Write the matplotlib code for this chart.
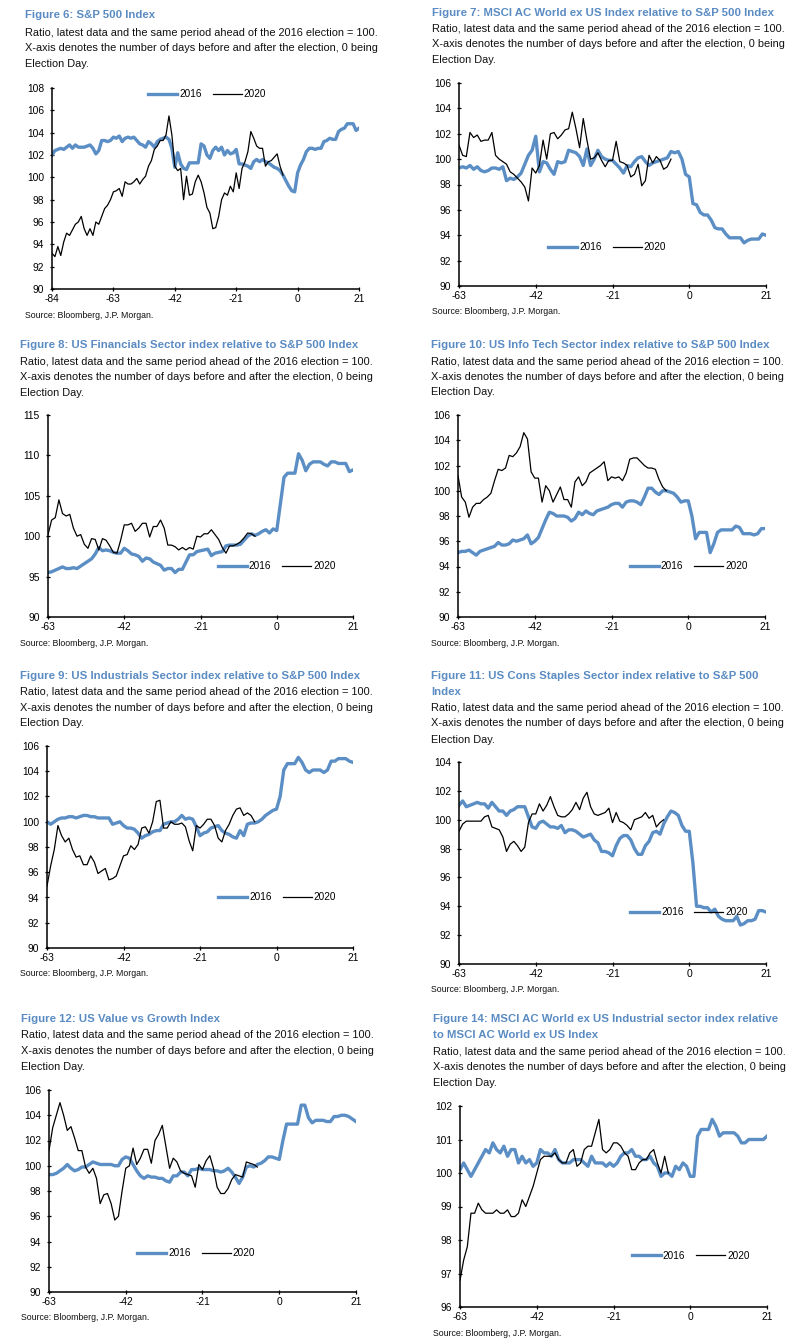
import numpy as np
import matplotlib
matplotlib.use("Agg")
import matplotlib.pyplot as plt

# ---- data: ratio series, one value per trading day ----
p1_2016 = [102.0, 102.4, 102.5, 102.6, 102.5, 102.7, 102.9, 102.6, 102.9, 102.7,
           102.7, 102.7, 102.8, 102.9, 102.6, 102.1, 102.4, 103.3, 103.3, 103.2,
           103.3, 103.6, 103.5, 103.7, 103.2, 103.5, 103.6, 103.5, 103.6, 103.3,
           103.0, 102.9, 102.7, 103.2, 103.0, 102.7, 103.2, 103.4, 103.5, 103.6,
           103.4, 102.6, 100.9, 102.2, 101.2, 100.8, 100.7, 101.3, 101.3, 101.3,
           101.3, 103.0, 102.8, 102.0, 101.7, 102.4, 102.7, 102.4, 102.7, 102.0,
           102.4, 102.1, 102.2, 102.5, 101.2, 101.2, 101.1, 101.0, 100.8, 101.4,
           101.6, 101.4, 101.6, 101.4, 101.3, 101.1, 100.9, 100.8, 100.6, 100.2,
           99.7, 99.2, 98.8, 98.7, 100.4, 101.1, 101.6, 102.3, 102.6, 102.6,
           102.5, 102.6, 102.6, 103.2, 103.3, 103.5, 103.4, 103.4, 104.1, 104.3,
           104.4, 104.8, 104.8, 104.8, 104.2, 104.4]
p1_2020 = [93.2, 92.9, 93.8, 93.0, 94.2, 95.0, 94.8, 95.3, 95.8, 96.0,
           96.5, 95.4, 94.8, 95.4, 94.8, 96.0, 95.8, 96.5, 97.2, 97.5,
           98.0, 98.7, 98.8, 99.0, 98.3, 99.6, 99.4, 99.4, 99.6, 99.9,
           99.4, 99.8, 100.1, 101.0, 101.5, 102.5, 102.8, 103.3, 103.3, 103.8,
           105.5, 103.8, 101.0, 100.6, 100.8, 98.0, 100.1, 98.4, 98.5, 99.6,
           100.2, 99.6, 98.6, 97.3, 96.8, 95.4, 95.5, 96.5, 98.0, 98.6,
           98.4, 99.2, 98.7, 100.4, 99.0, 100.8, 101.4, 102.3, 104.1, 103.5,
           102.8, 102.6, 102.6, 101.0, 101.4, 101.5, 101.8, 102.1, 101.0, 100.2]

p2_2016 = [99.3, 99.4, 99.3, 99.5, 99.2, 99.4, 99.1, 99.0, 99.1, 99.3,
           99.3, 99.2, 99.4, 98.3, 98.5, 98.4, 98.6, 98.9, 99.6, 100.3,
           100.7, 101.8, 99.0, 99.8, 99.7, 99.2, 98.8, 99.8, 99.7, 99.8,
           100.7, 100.6, 100.5, 100.2, 99.5, 100.8, 99.5, 100.0, 100.7, 100.2,
           100.0, 99.9, 99.9, 99.6, 99.3, 98.9, 99.5, 99.4, 99.8, 100.1,
           100.2, 99.8, 99.5, 99.7, 99.8, 99.9, 100.0, 100.1, 100.6, 100.5,
           100.6, 100.0, 98.8, 98.6, 96.5, 96.4, 95.8, 95.6, 95.6, 95.2,
           94.6, 94.5, 94.5, 94.1, 93.8, 93.8, 93.8, 93.8, 93.4, 93.6,
           93.7, 93.7, 93.7, 94.1, 94.0]
p2_2020 = [101.1, 100.3, 100.2, 102.1, 101.7, 101.9, 101.4, 101.5, 101.5, 102.1,
           100.3, 100.0, 99.8, 99.6, 99.0, 98.8, 98.5, 98.2, 97.8, 96.7,
           99.3, 98.9, 99.5, 101.5, 100.0, 102.0, 102.1, 101.6, 101.9, 102.3,
           102.4, 103.7, 102.4, 100.9, 103.2, 101.5, 100.0, 100.1, 100.5, 99.9,
           99.4, 99.9, 99.9, 101.4, 99.8, 99.7, 99.5, 98.6, 98.8, 99.6,
           97.9, 98.3, 100.3, 99.7, 100.2, 99.9, 99.2, 99.4, 100.0]

p3_2016 = [95.5, 95.6, 95.8, 96.0, 96.2, 96.0, 96.0, 96.1, 96.0, 96.3,
           96.6, 96.9, 97.2, 97.8, 98.6, 98.2, 98.3, 98.2, 98.0, 97.9,
           97.9, 98.5, 98.2, 97.8, 97.7, 97.5, 96.9, 97.3, 97.2, 96.8,
           96.6, 96.4, 95.8, 96.0, 96.0, 95.5, 95.9, 95.9, 96.8, 97.7,
           97.7, 98.1, 98.2, 98.3, 98.4, 97.6, 97.9, 98.0, 98.1, 98.8,
           98.9, 98.9, 98.9, 99.0, 99.5, 100.0, 100.3, 100.1, 100.3, 100.6,
           100.8, 100.4, 100.9, 100.7, 104.0, 107.3, 107.8, 107.8, 107.8, 110.2,
           109.4, 108.1, 108.9, 109.2, 109.2, 109.2, 108.9, 108.7, 109.2, 109.2,
           109.0, 109.0, 109.0, 108.0, 108.2]
p3_2020 = [100.2, 102.0, 102.3, 104.5, 102.8, 102.5, 102.7, 101.0, 100.0, 100.2,
           99.0, 98.5, 99.7, 99.6, 98.3, 99.7, 99.5, 98.8, 98.0, 97.9,
           99.5, 101.4, 101.4, 101.6, 100.6, 101.0, 101.6, 101.6, 99.9, 101.2,
           101.2, 102.0, 101.0, 98.9, 98.9, 98.7, 98.3, 98.6, 98.3, 98.6,
           98.4, 100.0, 99.9, 100.3, 100.3, 100.8, 100.2, 99.6, 98.6, 97.9,
           98.8, 98.8, 99.0, 99.3, 99.8, 100.4, 100.3, 100.0]

p4_2016 = [95.1, 95.2, 95.2, 95.3, 95.1, 94.9, 95.2, 95.3, 95.4, 95.5,
           95.6, 95.9, 95.7, 95.7, 95.8, 96.1, 96.0, 96.1, 96.2, 96.5,
           95.8, 96.0, 96.3, 97.0, 97.7, 98.3, 98.2, 98.0, 98.0, 98.0,
           97.9, 97.6, 97.8, 98.3, 98.1, 98.4, 98.2, 98.1, 98.4, 98.5,
           98.6, 98.7, 98.9, 99.0, 99.0, 98.7, 99.1, 99.2, 99.2, 99.1,
           98.9, 99.5, 100.2, 100.2, 99.9, 99.7, 100.0, 100.0, 99.9, 99.8,
           99.5, 99.1, 99.2, 99.2, 98.0, 96.2, 96.7, 96.7, 96.7, 95.1,
           95.8, 96.7, 96.9, 96.9, 96.9, 96.9, 97.2, 97.1, 96.6, 96.6,
           96.6, 96.5, 96.6, 97.0, 97.0]
p4_2020 = [101.2, 99.5, 99.1, 97.9, 98.7, 99.0, 99.0, 99.3, 99.5, 99.8,
           100.8, 101.7, 101.6, 101.8, 102.8, 102.7, 103.0, 103.5, 104.6, 104.1,
           101.5, 101.0, 101.0, 99.1, 100.4, 100.0, 99.1, 99.7, 100.3, 99.3,
           99.3, 98.7, 100.7, 101.1, 100.4, 100.7, 101.4, 101.6, 101.8, 102.0,
           102.3, 100.8, 101.1, 101.0, 101.1, 100.8, 101.4, 102.5, 102.6, 102.6,
           102.3, 102.0, 101.8, 101.8, 101.7, 100.9, 100.3, 100.0]

p5_2016 = [100.0, 99.8, 100.0, 100.2, 100.3, 100.3, 100.4, 100.4, 100.3, 100.4,
           100.5, 100.5, 100.4, 100.4, 100.3, 100.3, 100.3, 100.3, 99.8, 99.9,
           100.0, 99.7, 99.5, 99.5, 99.4, 99.1, 98.7, 98.9, 99.0, 99.2,
           99.3, 99.3, 99.8, 99.9, 100.0, 100.0, 100.2, 100.5, 100.2, 100.3,
           100.2, 99.6, 98.9, 99.1, 99.2, 99.5, 99.6, 99.7, 99.3, 99.1,
           99.0, 98.8, 98.7, 99.3, 98.9, 99.8, 99.9, 99.9, 100.0, 100.2,
           100.5, 100.7, 100.9, 101.0, 102.0, 104.1, 104.6, 104.6, 104.6, 105.1,
           104.7, 104.1, 103.9, 104.1, 104.1, 104.1, 103.9, 104.1, 104.8, 104.8,
           105.0, 105.0, 105.0, 104.8, 104.7]
p5_2020 = [94.9, 96.5, 97.8, 99.7, 98.9, 98.4, 98.7, 97.8, 97.2, 97.3,
           96.6, 96.6, 97.3, 96.8, 95.9, 96.1, 96.3, 95.4, 95.5, 95.7,
           96.5, 97.3, 97.4, 98.1, 97.8, 98.2, 99.5, 99.6, 99.1, 100.0,
           101.6, 101.7, 99.5, 99.5, 100.0, 99.8, 99.8, 99.9, 99.6, 98.5,
           97.7, 99.7, 99.5, 99.8, 100.2, 100.2, 99.7, 98.7, 98.4, 99.3,
           99.8, 100.5, 101.0, 101.1, 100.5, 100.7, 100.5, 100.0]

p6_2016 = [101.0, 101.3, 100.9, 101.0, 101.1, 101.2, 101.1, 101.1, 100.8, 101.2,
           100.9, 100.6, 100.6, 100.3, 100.6, 100.7, 100.9, 100.9, 100.9, 100.2,
           99.5, 99.4, 99.8, 99.9, 99.7, 99.5, 99.5, 99.4, 99.6, 99.1,
           99.3, 99.3, 99.2, 99.0, 98.8, 98.9, 99.0, 98.6, 98.4, 97.8,
           97.8, 97.7, 97.5, 98.2, 98.7, 98.9, 98.9, 98.6, 98.0, 97.6,
           97.6, 98.2, 98.5, 99.1, 99.2, 99.0, 99.7, 100.2, 100.6, 100.5,
           100.3, 99.6, 99.2, 99.2, 97.0, 94.0, 94.0, 93.9, 93.9, 93.6,
           93.8, 93.3, 93.1, 93.0, 93.0, 93.0, 93.3, 92.7, 92.8, 93.0,
           93.0, 93.1, 93.7, 93.7, 93.6]
p6_2020 = [99.2, 99.7, 99.9, 99.9, 99.9, 99.9, 99.9, 100.2, 100.3, 99.5,
           99.4, 99.3, 98.8, 97.8, 98.3, 98.5, 98.2, 97.8, 98.1, 99.8,
           100.4, 100.4, 101.1, 100.6, 101.0, 101.6, 100.9, 100.3, 100.2, 100.2,
           100.4, 100.7, 101.2, 100.7, 101.5, 101.9, 100.9, 100.4, 100.3, 100.4,
           100.5, 100.8, 99.8, 100.5, 99.9, 99.8, 99.6, 99.3, 100.0, 100.1,
           100.2, 100.5, 100.1, 100.3, 99.5, 99.8, 100.0]

p7_2016 = [99.3, 99.3, 99.4, 99.6, 99.8, 100.1, 99.8, 99.6, 99.7, 99.9,
           99.9, 100.1, 100.3, 100.2, 100.1, 100.1, 100.1, 100.1, 100.0, 100.0,
           100.5, 100.7, 100.6, 100.1, 99.6, 99.2, 99.0, 99.2, 99.1, 99.1,
           99.0, 99.0, 98.8, 98.7, 99.2, 99.2, 99.5, 99.5, 99.2, 99.7,
           99.7, 99.8, 99.7, 99.7, 99.7, 99.6, 99.6, 99.5, 99.6, 99.8,
           99.5, 99.1, 98.6, 99.1, 99.9, 100.0, 99.9, 100.1, 100.2, 100.4,
           100.7, 100.7, 100.6, 100.5, 102.0, 103.3, 103.3, 103.3, 103.3, 104.8,
           104.8, 103.8, 103.4, 103.6, 103.6, 103.6, 103.5, 103.5, 103.9, 103.9,
           104.0, 104.0, 103.9, 103.7, 103.5]
p7_2020 = [101.2, 103.0, 104.0, 105.0, 104.0, 102.8, 103.1, 102.2, 101.2, 101.2,
           99.9, 99.4, 99.8, 99.0, 97.0, 97.7, 97.8, 97.0, 95.7, 96.0,
           98.0, 99.8, 100.0, 101.4, 100.1, 100.6, 101.3, 101.3, 100.2, 102.0,
           102.5, 103.2, 101.5, 99.8, 100.6, 100.3, 99.6, 99.4, 99.3, 99.2,
           98.3, 100.1, 99.7, 100.4, 100.8, 99.8, 98.3, 97.8, 97.8, 98.2,
           98.9, 99.3, 99.2, 99.1, 100.3, 100.2, 100.1, 99.9]

p8_2016 = [100.1, 100.3, 100.1, 99.9, 100.1, 100.3, 100.5, 100.7, 100.6, 100.9,
           100.7, 100.6, 100.8, 100.5, 100.7, 100.7, 100.3, 100.5, 100.3, 100.4,
           100.2, 100.3, 100.7, 100.6, 100.6, 100.5, 100.7, 100.4, 100.3, 100.3,
           100.3, 100.4, 100.4, 100.4, 100.3, 100.2, 100.5, 100.3, 100.3, 100.3,
           100.2, 100.3, 100.2, 100.3, 100.5, 100.6, 100.6, 100.7, 100.5, 100.5,
           100.4, 100.4, 100.5, 100.3, 100.2, 99.9, 100.0, 100.0, 99.9, 100.2,
           100.1, 100.3, 100.2, 99.9, 99.9, 101.1, 101.3, 101.3, 101.3, 101.6,
           101.4, 101.1, 101.2, 101.2, 101.2, 101.2, 101.1, 100.9, 100.9, 101.0,
           101.0, 101.0, 101.0, 101.0, 101.1]
p8_2020 = [96.8, 97.4, 97.8, 98.8, 98.8, 99.1, 98.9, 98.8, 98.8, 98.8,
           98.9, 98.8, 98.8, 98.9, 98.7, 98.7, 98.8, 99.2, 99.0, 99.3,
           99.6, 100.0, 100.4, 100.5, 100.5, 100.5, 100.6, 100.4, 100.3, 100.3,
           100.6, 100.7, 100.2, 100.3, 100.7, 100.8, 100.8, 101.2, 101.6, 100.7,
           100.6, 100.7, 100.9, 100.9, 100.8, 100.6, 100.5, 100.1, 100.1, 100.3,
           100.4, 100.4, 100.6, 100.7, 100.3, 100.0, 100.5, 100.0]

titles = ["Figure 6: S&P 500 Index",
          "Figure 7: MSCI AC World ex US Index relative to S&P 500 Index",
          "Figure 8: US Financials Sector index relative to S&P 500 Index",
          "Figure 10: US Info Tech Sector index relative to S&P 500 Index",
          "Figure 9: US Industrials Sector index relative to S&P 500 Index",
          "Figure 11: US Cons Staples Sector index relative to S&P 500\nIndex",
          "Figure 12: US Value vs Growth Index",
          "Figure 14: MSCI AC World ex US Industrial sector index relative\nto MSCI AC World ex US Index"]
subtitle = ["Ratio, latest data and the same period ahead of the 2016 election = 100.",
            "X-axis denotes the number of days before and after the election, 0 being",
            "Election Day."]
source = "Source: Bloomberg, J.P. Morgan."
series_labels = ["2016", "2020"]

BLUE = "#5b8ec4"
TITLE_BLUE = "#5a8bc2"

plt.rcParams["font.family"] = ["Liberation Sans", "DejaVu Sans"]
plt.rcParams["axes.unicode_minus"] = False

W, H = 800, 1344
fig = plt.figure(figsize=(W / 100, H / 100), dpi=100)

# panel layout in pixels: axes box, text x, title y, subtitle y, source y, legend anchor
panels = [
    dict(s16=p1_2016, s20=p1_2020, start=-84, ylim=(90, 108), ystep=2,
         box=(52, 88, 359, 289), tx=25, ty=[15], sy=[33, 48, 64], src=315, leg=(0.313, 0.970)),
    dict(s16=p2_2016, s20=p2_2020, start=-63, ylim=(90, 106), ystep=2,
         box=(459, 83, 766, 286), tx=432, ty=[13], sy=[29, 44, 60], src=311, leg=(0.290, 0.192)),
    dict(s16=p3_2016, s20=p3_2020, start=-63, ylim=(90, 115), ystep=5,
         box=(48, 415, 353, 617), tx=20, ty=[345], sy=[362, 377, 393], src=643, leg=(0.557, 0.252)),
    dict(s16=p4_2016, s20=p4_2020, start=-63, ylim=(90, 106), ystep=2,
         box=(458, 415, 765, 617), tx=431, ty=[345], sy=[362, 377, 392], src=643, leg=(0.560, 0.252)),
    dict(s16=p5_2016, s20=p5_2020, start=-63, ylim=(90, 106), ystep=2,
         box=(47, 746, 353, 948), tx=20, ty=[676], sy=[692, 708, 723], src=973, leg=(0.559, 0.252)),
    dict(s16=p6_2016, s20=p6_2020, start=-63, ylim=(90, 104), ystep=2,
         box=(459, 762, 766, 964), tx=431, ty=[676, 692], sy=[708, 723, 740], src=990, leg=(0.557, 0.257)),
    dict(s16=p7_2016, s20=p7_2020, start=-63, ylim=(90, 106), ystep=2,
         box=(49, 1090, 356, 1292), tx=21, ty=[1019], sy=[1035, 1051, 1067], src=1318, leg=(0.287, 0.193)),
    dict(s16=p8_2016, s20=p8_2020, start=-63, ylim=(96, 102), ystep=1,
         box=(460, 1106, 767, 1307), tx=433, ty=[1019, 1035], sy=[1052, 1067, 1083], src=1333, leg=(0.560, 0.254)),
]


def fx(x):
    return x / W


def fy(y):
    return 1 - y / H


for p, title in zip(panels, titles):
    x0, y0, x1, y1 = p["box"]
    ax = fig.add_axes([fx(x0), fy(y1), (x1 - x0) / W, (y1 - y0) / H])

    d16 = np.arange(p["start"], p["start"] + len(p["s16"]))
    d20 = np.arange(p["start"], p["start"] + len(p["s20"]))
    ax.plot(d16, p["s16"], color=BLUE, lw=2.4, label=series_labels[0], solid_joinstyle="round", zorder=2)
    ax.plot(d20, p["s20"], color="black", lw=0.9, label=series_labels[1], zorder=3)

    ax.set_xlim(p["start"], 21)
    ax.set_ylim(*p["ylim"])
    ax.set_xticks(np.arange(p["start"], 22, 21))
    ax.set_yticks(np.arange(p["ylim"][0], p["ylim"][1] + 0.1, p["ystep"]))
    for s in ["top", "right"]:
        ax.spines[s].set_visible(False)
    for s in ["left", "bottom"]:
        ax.spines[s].set_linewidth(1.1)
    ax.tick_params(direction="inout", length=3.5, width=0.9, labelsize=7.4, colors="black")
    ax.tick_params(axis="y", pad=4)
    ax.tick_params(axis="x", pad=2)

    ax.legend(loc="center left", bbox_to_anchor=p["leg"], ncol=2, frameon=False,
              fontsize=7.2, handlelength=2.9, handletextpad=0.2, columnspacing=1.1,
              borderpad=0, borderaxespad=0)

    for line, y in zip(title.split("\n"), p["ty"]):
        fig.text(fx(p["tx"]), fy(y), line, color=TITLE_BLUE, fontsize=8.2,
                 fontweight="bold", va="center")
    for line, y in zip(subtitle, p["sy"]):
        fig.text(fx(p["tx"]), fy(y), line, fontsize=7.9, va="center", color="#111111")
    fig.text(fx(p["tx"]), fy(p["src"]), source, fontsize=6.3, va="center", color="#111111")

fig.savefig("out.png", dpi=100)
